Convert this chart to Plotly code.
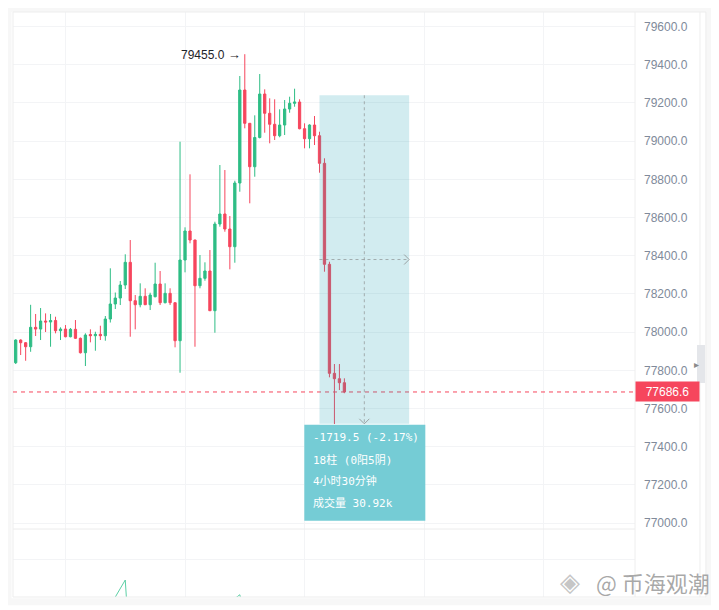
import plotly.graph_objects as go

# Bougies (BTC, bougies de 15 min)
opens = [77839.7, 77958.6, 77944.4, 77923.5, 78025.0, 78016.0, 78058.0, 78053.0, 78060.7, 78007.3,
         78016.0, 77975.9, 78014.6, 77967.5, 77892.1, 77987.4, 77981.1, 77988.4, 77981.1, 78068.5,
         78147.1, 78178.5, 78246.5, 78365.4, 78164.3, 78143.4, 78187.4, 78143.4, 78185.3, 78251.8,
         78153.9, 78203.1, 78153.9, 77954.9, 78377.4, 78529.3, 78482.1, 78242.9, 78281.6, 78319.8,
         78112.0, 78565.9, 78618.3, 78539.7, 78447.1, 78780.6, 79267.5, 79093.1, 78865.9, 79018.8,
         79246.5, 79145.5, 79087.9, 79028.2, 79084.2, 79168.0, 79197.8, 79204.6, 79064.9, 79012.5,
         79084.2, 79028.2, 78883.7, 78354.9, 77784.2, 77756.0, 77735.0]
highs = [77962.2, 77962.0, 77948.0, 78143.0, 78095.0, 78126.0, 78098.0, 78095.0, 78080.6, 78025.0,
         78037.0, 78021.4, 78063.3, 77971.7, 77993.7, 78014.6, 78002.0, 78033.4, 78084.2, 78334.0,
         78207.3, 78267.5, 78407.3, 78482.1, 78194.2, 78255.4, 78229.3, 78206.2, 78363.3, 78319.8,
         78255.4, 78229.3, 78155.5, 78996.8, 78548.6, 78826.1, 78484.0, 78403.6, 78365.4, 78429.8,
         78577.9, 78874.8, 78848.6, 78607.8, 78792.6, 79340.8, 79455.0, 79095.0, 79135.0, 79351.2,
         79271.1, 79224.0, 79218.8, 79166.4, 79215.1, 79232.4, 79274.3, 79218.8, 79093.1, 79088.0,
         79131.3, 79049.1, 78909.9, 78368.5, 77832.9, 77832.9, 77758.1]
lows = [77832.9, 77880.0, 77850.0, 77897.0, 77979.5, 77958.6, 78000.5, 77923.5, 77993.7, 77958.6,
        77972.7, 77972.7, 77963.8, 77887.9, 77822.5, 77946.5, 77902.6, 77958.6, 77954.9, 78050.2,
        78120.9, 78141.8, 78225.6, 77975.9, 78014.6, 78129.8, 78141.8, 78115.6, 78182.1, 78141.8,
        78150.7, 78141.8, 77920.4, 77787.4, 78313.0, 78464.9, 77923.5, 78229.3, 78269.0, 78110.4,
        77996.8, 78551.8, 78525.6, 78328.7, 78363.3, 78735.0, 79066.9, 78674.3, 78813.5, 79014.0,
        79043.9, 78988.4, 79005.7, 79020.0, 79031.9, 79148.6, 79180.0, 79061.7, 78962.2, 78962.2,
        78979.5, 78834.5, 78316.2, 77763.3, 77518.8, 77696.8, 77680.0]
closes = [77958.6, 77944.4, 77923.5, 78025.0, 78016.0, 78058.0, 78053.0, 78060.7, 78007.3, 78016.0,
          77975.9, 78014.6, 77967.5, 77892.1, 77984.8, 77981.1, 77988.4, 77981.1, 78068.5, 78147.1,
          78178.5, 78246.5, 78365.4, 78164.3, 78143.4, 78187.4, 78143.4, 78194.2, 78251.8, 78153.9,
          78203.1, 78153.9, 77954.9, 78377.4, 78529.3, 78482.1, 78242.9, 78281.6, 78319.8, 78112.0,
          78565.9, 78618.3, 78539.7, 78447.1, 78780.6, 79267.5, 79093.1, 78865.9, 79018.8, 79246.5,
          79145.5, 79087.9, 79028.2, 79084.2, 79168.0, 79197.8, 79204.6, 79064.9, 79012.5, 79084.2,
          79028.2, 78883.7, 78354.9, 77784.2, 77756.0, 77735.0, 77686.6]

# courbe du volume (en K), presque entièrement sous le bas du panneau
vol_line = [12.0, 11.5, 10.8, 13.2, 12.4, 11.0, 10.5, 11.8, 12.6, 10.9,
            11.2, 10.4, 11.7, 13.0, 14.1, 12.2, 11.9, 12.5, 15.0, 18.0,
            20.0, 22.2, 24.5, 4.0, 9.5, 10.2, 9.8, 10.6, 11.4, 10.1,
            9.7, 10.3, 12.8, 16.5, 14.2, 13.0, 15.8, 12.0, 11.0, 13.5,
            15.2, 14.0, 13.1, 14.8, 19.6, 20.6, 15.0, 16.2, 14.4, 15.1,
            13.8, 12.9, 12.2, 11.6, 12.0, 11.1, 10.8, 12.4, 13.0, 11.9,
            12.3, 13.6, 17.8, 19.2, 16.4, 12.5, 10.0]

price_ticks = [77000, 77200, 77400, 77600, 77800, 78000, 78200,
               78400, 78600, 78800, 79000, 79200, 79400, 79600]
price_tick_labels = ['77000.0', '77200.0', '77400.0', '77600.0', '77800.0', '78000.0', '78200.0',
                     '78400.0', '78600.0', '78800.0', '79000.0', '79200.0', '79400.0', '79600.0']
grid_bars = [10, 34, 58, 82, 106]

last_price = 77686.6
peak_bar = 46
peak_price = 79455.0

# outil de mesure
measure_bars = [61, 79]
measure_prices = [79240.0, 77520.0]
measure_text = ['-1719.5 (-2.17%)', '18柱 (0阳5阴)', '4小时30分钟', '成交量 30.92k']

GREEN = '#2ebd85'
RED = '#f6465d'
GRID = '#f3f4f6'
AXIS_TXT = '#808a9a'
DASH_GREY = 'rgba(130,130,130,0.6)'

bars = list(range(len(opens)))
mid_bar = (measure_bars[0] + measure_bars[1]) / 2
mid_price = (measure_prices[0] + measure_prices[1]) / 2
SPLIT = 0.1162

fig = go.Figure()
fig.add_trace(go.Candlestick(
    x=bars, open=opens, high=highs, low=lows, close=closes,
    increasing=dict(line=dict(color=GREEN, width=1), fillcolor=GREEN),
    decreasing=dict(line=dict(color=RED, width=1), fillcolor=RED),
    whiskerwidth=0, hoverinfo='skip', xaxis='x', yaxis='y'))
fig.add_trace(go.Scatter(
    x=bars, y=vol_line, mode='lines', line=dict(color='#5ccfa5', width=1),
    hoverinfo='skip', xaxis='x2', yaxis='y2'))

shapes = [
    # séparateur des panneaux et bord de l'axe des prix
    dict(type='line', xref='paper', yref='paper', x0=0, x1=1, y0=SPLIT, y1=SPLIT,
         line=dict(color='#ececec', width=1)),
    dict(type='line', xref='paper', yref='paper', x0=1, x1=1, y0=0, y1=1,
         line=dict(color='#eeeeee', width=1)),
    # carte + ombre
    dict(type='rect', xref='paper', yref='paper', x0=-0.008, x1=1.119, y0=-0.008, y1=1.006,
         line=dict(color='rgba(0,0,0,0.03)', width=7)),
    dict(type='rect', xref='paper', yref='paper', x0=0, x1=1.1141, y0=0, y1=1,
         line=dict(color='#ededed', width=1)),
    dict(type='line', xref='paper', yref='paper', x0=1.1045, x1=1.1045, y0=0, y1=1,
         line=dict(color='#eeeeee', width=1)),
    dict(type='rect', xref='paper', yref='paper', x0=1.0997, x1=1.1125, y0=0.3658, y1=0.4308,
         fillcolor='#e4e6ea', line=dict(width=0)),
    # ligne du dernier prix
    dict(type='line', xref='paper', yref='y', x0=0, x1=1, y0=last_price, y1=last_price,
         line=dict(color=RED, width=1, dash='4px,4px')),
    # zone de mesure
    dict(type='rect', xref='x', yref='y', x0=measure_bars[0], x1=measure_bars[1],
         y0=measure_prices[1], y1=measure_prices[0], fillcolor='rgba(32,160,178,0.2)',
         line=dict(width=0), layer='above'),
    dict(type='line', xref='x', yref='y', x0=mid_bar, x1=mid_bar,
         y0=measure_prices[0], y1=measure_prices[1],
         line=dict(color=DASH_GREY, width=1, dash='3px,3px'), layer='above'),
    dict(type='line', xref='x', yref='y', x0=measure_bars[0], x1=measure_bars[1],
         y0=mid_price, y1=mid_price,
         line=dict(color=DASH_GREY, width=1, dash='3px,3px'), layer='above'),
    dict(type='path', xsizemode='pixel', ysizemode='pixel', xref='x', yref='y',
         xanchor=mid_bar, yanchor=measure_prices[1], path='M -5,5 L 0,0 L 5,5',
         line=dict(color='rgba(130,130,130,0.7)', width=1), layer='above'),
    dict(type='path', xsizemode='pixel', ysizemode='pixel', xref='x', yref='y',
         xanchor=measure_bars[1], yanchor=mid_price, path='M -5,5 L 0,0 L -5,-5',
         line=dict(color='rgba(130,130,130,0.7)', width=1), layer='above'),
    dict(type='rect', xsizemode='pixel', ysizemode='pixel', xref='x', yref='y',
         xanchor=mid_bar, yanchor=measure_prices[1], x0=-60, x1=61, y0=-1, y1=-97,
         fillcolor='#75ccd5', line=dict(width=0), layer='above'),
]

annotations = [
    dict(x=peak_bar, y=peak_price, xref='x', yref='y',
         text=f'{peak_price:.1f} <span style="font-size:13px">→</span>',
         showarrow=False, xanchor='right', yanchor='middle', xshift=-2,
         font=dict(size=12, color='#1e2329')),
    dict(x=1, y=last_price, xref='paper', yref='y', text=f'{last_price:.1f}',
         showarrow=False, xanchor='left', yanchor='middle', bgcolor=RED,
         width=61, height=17, borderpad=1, align='center',
         font=dict(size=12, color='white')),
    dict(x=1.1061, y=0.398, xref='paper', yref='paper', text='▸', showarrow=False,
         font=dict(size=10, color='#8a8a8a')),
    dict(x=1.1238, y=0.026, xref='paper', yref='paper', text='@ 币海观潮', showarrow=False,
         xanchor='right', yanchor='middle',
         font=dict(size=22, color='rgba(140,140,140,0.75)', family='Noto Sans CJK SC')),
    dict(x=0.895, y=0.026, xref='paper', yref='paper', text='◈', showarrow=False,
         xanchor='center', yanchor='middle',
         font=dict(size=26, color='rgba(160,160,160,0.6)', family='DejaVu Sans')),
]
for i, line in enumerate(measure_text):
    annotations.append(dict(
        x=mid_bar, y=measure_prices[1], xref='x', yref='y', text=line, showarrow=False,
        xanchor='left', yanchor='middle', xshift=-53, yshift=-(14 + i * 21.7),
        font=dict(size=11, color='white', family='DejaVu Sans Mono, Noto Sans CJK SC')))

# la page ajoute 8 px de marge : figure réduite d'autant
fig.update_layout(
    width=711, height=602, autosize=False,
    margin=dict(l=5, r=84, t=4, b=13),
    paper_bgcolor='white', plot_bgcolor='white',
    font=dict(family='Arial', size=12, color=AXIS_TXT),
    showlegend=False, boxgap=0.35, hovermode=False,
    xaxis=dict(domain=[0, 1], range=[-0.54, 124.35], anchor='y', tickvals=grid_bars,
               showticklabels=False, showgrid=True, gridcolor=GRID, zeroline=False,
               rangeslider=dict(visible=False), fixedrange=True),
    xaxis2=dict(domain=[0, 1], range=[-0.54, 124.35], anchor='y2', matches='x',
                tickvals=grid_bars, showticklabels=False, showgrid=True, gridcolor=GRID,
                zeroline=False),
    yaxis=dict(domain=[SPLIT, 1], range=[76969.1, 79675.9], side='right', anchor='x',
               tickvals=price_ticks, ticktext=price_tick_labels, showgrid=True,
               gridcolor=GRID, zeroline=False, ticks='', ticklabelstandoff=8,
               tickfont=dict(size=12, color=AXIS_TXT, family='Arial')),
    yaxis2=dict(domain=[0, SPLIT], range=[20, 38], anchor='x2', tickvals=[30],
                showticklabels=False, showgrid=True, gridcolor=GRID, zeroline=False),
    shapes=shapes, annotations=annotations,
)

fig.write_html('out.html')
